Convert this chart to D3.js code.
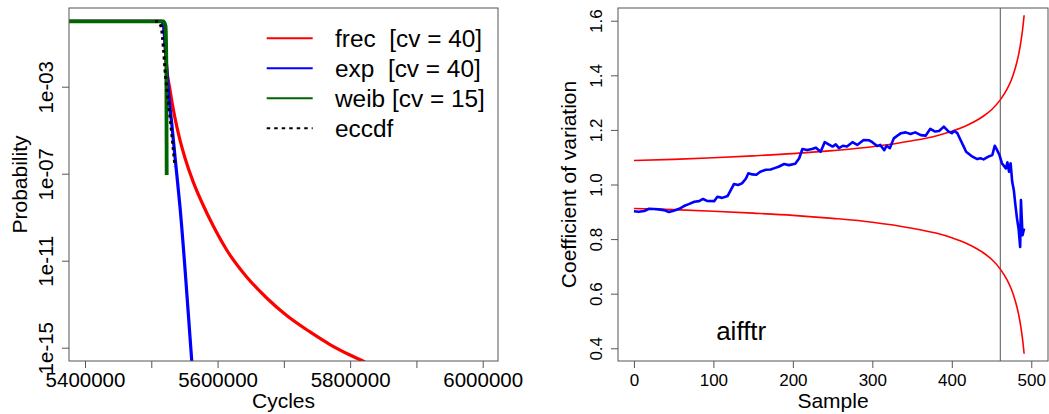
<!DOCTYPE html>
<html>
<head>
<meta charset="utf-8">
<script src="https://cdn.jsdelivr.net/npm/d3@7"></script>
<style>
  html, body { margin: 0; padding: 0; background: #fff; }
  svg { display: block; font-family: "Liberation Sans", Arial, Helvetica, sans-serif; }
  .legend text { white-space: pre; }
</style>
</head>
<body>
<svg id="chart" width="1049" height="414"></svg>
<script>
// ---------------- Left panel data (Cycles vs. tail probability) ----------------
const frecCycles = [5370000, 5515720, 5518440, 5520700, 5522210, 5528240, 5535780, 5543330, 5550870, 5563390,
                    5578480, 5593570, 5613790, 5643960, 5674140, 5704310, 5739470, 5769640, 5799810, 5822440];
const frecProb   = [1, 1, 0.69, 0.1, 0.017, 7.0e-4, 3.6e-5, 3.5e-6, 5.3e-7, 4.1e-8,
                    3.45e-9, 3.9e-10, 3.1e-11, 1.78e-12, 1.93e-13, 3.0e-14, 5.3e-15, 1.4e-15, 4.6e-16, 2.2e-16];

const expCycles  = [5370000, 5515720, 5518440, 5520700, 5523260, 5525680, 5530810, 5535780, 5543330, 5560980, 5562040];
const expProb    = [1, 1, 0.69, 0.1, 8.3e-3, 7.1e-4, 2.1e-5, 6.0e-7, 3.0e-9, 2.7e-16, 1e-16];

const weibCycles = [5370000, 5518130, 5521450, 5522650, 5523260];
const weibProb   = [1, 1, 0.62, 0.017, 8.7e-8];

const eccdfCycles = [5505610, 5509080, 5513150, 5515720, 5518130, 5520700, 5524170, 5528240, 5532310, 5535780];
const eccdfProb   = [1, 1, 0.76, 0.41, 0.069, 5.9e-3, 5.0e-4, 4.2e-5, 2.5e-6, 2.1e-7];

const leftXTicks  = [5400000, 5500000, 5600000, 5700000, 5800000, 5900000, 6000000];
const leftXLabels = [5400000, 5600000, 5800000, 6000000];
const leftYTicks  = [1e-3, 1e-7, 1e-11, 1e-15];
const leftYLabels = ["1e-03", "1e-07", "1e-11", "1e-15"];

const legendNames = ["frec  [cv = 40]", "exp  [cv = 40]", "weib [cv = 15]", "eccdf"];

// ---------------- Right panel data (Sample vs. coefficient of variation) ----------------
const sampleIdx = [0, 6, 13, 19, 25, 31, 38, 44, 50, 57, 63, 69, 76, 82, 87, 92, 101, 105, 111, 118,
  122, 126, 131, 136, 141, 144, 149, 154, 159, 166, 172, 177, 182, 189, 195, 203, 208, 212, 218, 224,
  229, 235, 240, 245, 250, 254, 258, 263, 268, 275, 281, 289, 296, 300, 306, 310, 315, 318, 322, 327,
  333, 336, 342, 348, 354, 361, 367, 373, 379, 384, 390, 396, 400, 403, 407, 411, 415, 418, 422, 426,
  432, 436, 440, 446, 451, 454, 457, 460, 463, 468, 470, 472, 474, 476, 478, 480, 482, 484, 486, 487, 489, 491];
const cvValues = [0.902, 0.900, 0.903, 0.911, 0.910, 0.909, 0.906, 0.899, 0.904, 0.911, 0.921, 0.928, 0.937, 0.939, 0.947, 0.940, 0.939, 0.955, 0.951, 0.958,
  0.980, 1.002, 0.998, 1.004, 1.022, 1.041, 1.037, 1.036, 1.047, 1.054, 1.055, 1.060, 1.065, 1.075, 1.071, 1.076, 1.096, 1.130, 1.126, 1.130,
  1.135, 1.120, 1.155, 1.147, 1.139, 1.147, 1.133, 1.142, 1.139, 1.155, 1.145, 1.163, 1.162, 1.155, 1.141, 1.145, 1.126, 1.142, 1.133, 1.169,
  1.182, 1.188, 1.191, 1.185, 1.191, 1.181, 1.179, 1.204, 1.194, 1.196, 1.212, 1.194, 1.188, 1.196, 1.188, 1.163, 1.139, 1.120, 1.111, 1.102,
  1.093, 1.096, 1.092, 1.102, 1.108, 1.142, 1.126, 1.108, 1.078, 1.059, 1.081, 1.047, 1.078, 1.010, 0.980, 0.925, 0.876, 0.839, 0.771, 0.943, 0.814, 0.839];

const boundIdx   = [0, 50, 100, 150, 200, 250, 300, 350, 380, 400, 420, 440, 450, 461, 470, 475, 480, 484, 487, 489, 491];
const upperBound = [1.088, 1.092, 1.098, 1.105, 1.113, 1.124, 1.138, 1.160, 1.178, 1.195, 1.218, 1.251, 1.274, 1.310, 1.352, 1.384, 1.428, 1.475, 1.524, 1.566, 1.620];
const lowerBound = [0.912, 0.908, 0.902, 0.895, 0.887, 0.876, 0.862, 0.840, 0.822, 0.805, 0.782, 0.749, 0.726, 0.690, 0.648, 0.616, 0.572, 0.525, 0.476, 0.434, 0.380];

const changePoint = 461;
const rightXTicks = [0, 100, 200, 300, 400, 500];
const rightYTicks = [0.4, 0.6, 0.8, 1.0, 1.2, 1.4, 1.6];
const panelLabel = "aifftr";

// ---------------- Drawing ----------------
const svg = d3.select("#chart");
const boxColor = "#555";
const L = {left: 69, right: 498, top: 8, bottom: 361};
const R = {left: 618, right: 1048, top: 8, bottom: 361};

const defs = svg.append("defs");
defs.append("clipPath").attr("id", "clipL").append("rect")
  .attr("x", L.left).attr("y", L.top).attr("width", L.right - L.left).attr("height", L.bottom - L.top);
defs.append("clipPath").attr("id", "clipR").append("rect")
  .attr("x", R.left).attr("y", R.top).attr("width", R.right - R.left).attr("height", R.bottom - R.top);

// ----- Left panel -----
const xL = d3.scaleLinear().domain([5375860, 6023100]).range([L.left, L.right]);
const yL = d3.scaleLog().domain([Math.pow(10, -15.612), Math.pow(10, 0.618)]).range([L.bottom, L.top]);

const gL = svg.append("g");
const plotL = gL.append("g").attr("clip-path", "url(#clipL)");
const lineL = d3.line().x(d => xL(d[0])).y(d => yL(d[1])).curve(d3.curveMonotoneX);
const zip = (a, b) => a.map((v, i) => [v, b[i]]);

const leftSeries = [
  {x: frecCycles, p: frecProb, color: "#ff0000", w: 3.2, dash: null},
  {x: expCycles, p: expProb, color: "#0000ff", w: 3.2, dash: null},
  {x: weibCycles, p: weibProb, color: "#006400", w: 3.8, dash: null},
  {x: eccdfCycles, p: eccdfProb, color: "#000000", w: 3, dash: "3,3.5"}
];
leftSeries.forEach(s => {
  plotL.append("path").datum(zip(s.x, s.p))
    .attr("d", lineL).attr("fill", "none")
    .attr("stroke", s.color).attr("stroke-width", s.w)
    .attr("stroke-dasharray", s.dash)
    .attr("stroke-linejoin", "round");
});

function styleAxis(ax, size) {
  ax.attr("font-family", null).attr("font-size", null);
  ax.select(".domain").remove();
  ax.selectAll("line").attr("stroke", boxColor);
  ax.selectAll("text").attr("font-size", size).attr("fill", "#000");
}

// left x axis
const axLx = gL.append("g").attr("transform", `translate(0,${L.bottom})`)
  .call(d3.axisBottom(xL).tickValues(leftXTicks).tickSize(7).tickPadding(4)
    .tickFormat(d => leftXLabels.includes(d) ? String(d) : ""));
styleAxis(axLx, 20.5);

// left y axis
const axLy = gL.append("g").attr("transform", `translate(${L.left},0)`)
  .call(d3.axisLeft(yL).tickValues(leftYTicks).tickSize(7)
    .tickFormat((d, i) => leftYLabels[i]));
styleAxis(axLy, 20.5);
axLy.selectAll("text")
  .attr("x", null).attr("dy", null).attr("text-anchor", "middle")
  .attr("transform", "translate(-15.7,0) rotate(-90)");

gL.append("rect").attr("x", L.left).attr("y", L.top)
  .attr("width", L.right - L.left).attr("height", L.bottom - L.top)
  .attr("fill", "none").attr("stroke", boxColor).attr("stroke-width", 1);

gL.append("text").attr("x", (L.left + L.right) / 2).attr("y", 408)
  .attr("text-anchor", "middle").attr("font-size", 21).text("Cycles");
gL.append("text").attr("transform", `translate(26.5,${(L.top + L.bottom) / 2}) rotate(-90)`)
  .attr("text-anchor", "middle").attr("font-size", 21).text("Probability");

// legend
const leg = gL.append("g").attr("class", "legend");
legendNames.forEach((name, i) => {
  const cy = 38.3 + i * 30;
  const s = leftSeries[i];
  leg.append("line").attr("x1", 266.7).attr("x2", 312.7).attr("y1", cy).attr("y2", cy)
    .attr("stroke", s.color).attr("stroke-width", 2)
    .attr("stroke-dasharray", s.dash ? "3.5,4" : null);
  leg.append("text").attr("x", 335).attr("y", cy + 8.4)
    .attr("font-size", 24.4).attr("xml:space", "preserve").text(name);
});

// ----- Right panel -----
const xR = d3.scaleLinear().domain([-20.04, 521.04]).range([R.left, R.right]);
const yR = d3.scaleLinear().domain([0.3534, 1.6466]).range([R.bottom, R.top]);
const gR = svg.append("g");
const plotR = gR.append("g").attr("clip-path", "url(#clipR)");

const smooth = d3.line().x(d => xR(d[0])).y(d => yR(d[1])).curve(d3.curveMonotoneX);
const jag = d3.line().x(d => xR(d[0])).y(d => yR(d[1]));

plotR.append("line").attr("x1", xR(changePoint)).attr("x2", xR(changePoint))
  .attr("y1", R.top).attr("y2", R.bottom).attr("stroke", boxColor).attr("stroke-width", 1);

plotR.append("path").datum(zip(boundIdx, upperBound)).attr("d", smooth)
  .attr("fill", "none").attr("stroke", "#ff0000").attr("stroke-width", 1.6);
plotR.append("path").datum(zip(boundIdx, lowerBound)).attr("d", smooth)
  .attr("fill", "none").attr("stroke", "#ff0000").attr("stroke-width", 1.6);
plotR.append("path").datum(zip(sampleIdx, cvValues)).attr("d", jag)
  .attr("fill", "none").attr("stroke", "#0000ff").attr("stroke-width", 2.6)
  .attr("stroke-linejoin", "round");

const axRx = gR.append("g").attr("transform", `translate(0,${R.bottom})`)
  .call(d3.axisBottom(xR).tickValues(rightXTicks).tickSize(7).tickPadding(6).tickFormat(d3.format("d")));
styleAxis(axRx, 17);

const axRy = gR.append("g").attr("transform", `translate(${R.left},0)`)
  .call(d3.axisLeft(yR).tickValues(rightYTicks).tickSize(7).tickFormat(d3.format(".1f")));
styleAxis(axRy, 17);
axRy.selectAll("text")
  .attr("x", null).attr("dy", null).attr("text-anchor", "middle")
  .attr("transform", "translate(-16.3,0) rotate(-90)");

gR.append("rect").attr("x", R.left).attr("y", R.top)
  .attr("width", R.right - R.left).attr("height", R.bottom - R.top)
  .attr("fill", "none").attr("stroke", boxColor).attr("stroke-width", 1);

gR.append("text").attr("x", (R.left + R.right) / 2).attr("y", 408)
  .attr("text-anchor", "middle").attr("font-size", 21).text("Sample");
gR.append("text").attr("transform", `translate(576,${(R.top + R.bottom) / 2}) rotate(-90)`)
  .attr("text-anchor", "middle").attr("font-size", 21).text("Coefficient of variation");
gR.append("text").attr("x", xR(135)).attr("y", 340)
  .attr("text-anchor", "middle").attr("font-size", 26).text(panelLabel);
</script>
</body>
</html>
